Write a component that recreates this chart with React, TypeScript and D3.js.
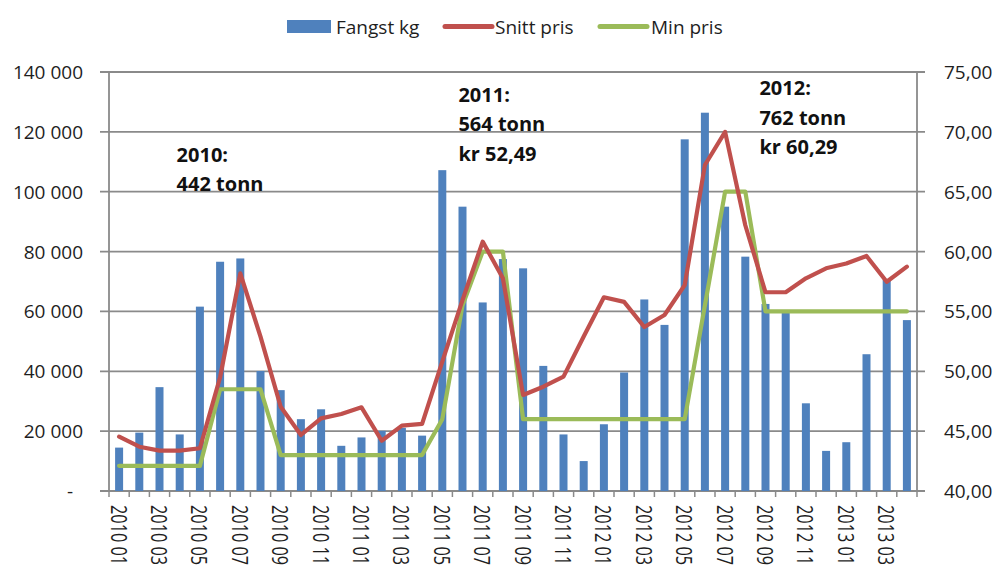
import React from 'react';
import * as d3 from 'd3';

const months = [
  '2010 01', '2010 02', '2010 03', '2010 04', '2010 05', '2010 06', '2010 07', '2010 08', '2010 09', '2010 10', '2010 11', '2010 12',
  '2011 01', '2011 02', '2011 03', '2011 04', '2011 05', '2011 06', '2011 07', '2011 08', '2011 09', '2011 10', '2011 11', '2011 12',
  '2012 01', '2012 02', '2012 03', '2012 04', '2012 05', '2012 06', '2012 07', '2012 08', '2012 09', '2012 10', '2012 11', '2012 12',
  '2013 01', '2013 02', '2013 03', '2013 04',
];

const catchKg = [
  14500, 19500, 34700, 18900, 61600, 76600, 77700, 40100, 33700, 24000, 27300, 15100,
  17900, 20100, 21100, 18500, 107200, 95000, 63000, 77500, 74400, 41800, 18900, 10000,
  22300, 39600, 64000, 55500, 117500, 126400, 95000, 78300, 62500, 59900, 29300, 13400,
  16300, 45700, 70500, 57100,
];

const avgPrice = [
  44.54, 43.7, 43.37, 43.37, 43.57, 49.5, 58.18, 52.9, 47.04, 44.68, 46.07, 46.43,
  46.99, 44.2, 45.46, 45.6, 50.8, 55.95, 60.83, 57.77, 48.02, 48.71, 49.55, 52.9,
  56.18, 55.8, 53.7, 54.7, 57.2, 67.23, 70.0, 62.2, 56.6, 56.6, 57.77, 58.6,
  59.0, 59.63, 57.48, 58.74,
];

const minPrice = [
  42.1, 42.1, 42.1, 42.1, 42.1, 48.5, 48.5, 48.5, 43, 43, 43, 43,
  43, 43, 43, 43, 46, 55.5, 60, 60, 46, 46, 46, 46,
  46, 46, 46, 46, 46, 55.5, 65, 65, 55, 55, 55, 55,
  55, 55, 55, 55,
];

const leftTicks = [0, 20000, 40000, 60000, 80000, 100000, 120000, 140000];
const rightTicks = [40, 45, 50, 55, 60, 65, 70, 75];

const annotations = [
  { month: '2010 04', lines: ['2010:', '442 tonn'], top: 161.5, dx: 7 },
  { month: '2011 06', lines: ['2011:', '564 tonn', 'kr 52,49'], top: 101.5, dx: 6 },
  { month: '2012 09', lines: ['2012:', '762 tonn', 'kr 60,29'], top: 95, dx: 4 },
];

const legendItems = [
  { label: 'Fangst kg', type: 'bar', color: '#4F81BD' },
  { label: 'Snitt pris', type: 'line', color: '#C0504D' },
  { label: 'Min pris', type: 'line', color: '#9BBB59' },
];

const W = 995;
const H = 578;
const L = 109;
const R = 917;
const T = 72;
const B = 491;
const FONT = '"Open Sans", "Liberation Sans", sans-serif';
const GRID = '#8a8a8a';
const TXT = '#1e1e1e';

export default function App() {
  const x = d3.scaleBand<string>().domain(months).range([L, R]).paddingInner(0).paddingOuter(0);
  const yL = d3.scaleLinear().domain([0, 140000]).range([B, T]);
  const yR = d3.scaleLinear().domain([40, 75]).range([B, T]);
  const cx = (m: string) => (x(m) as number) + x.bandwidth() / 2;
  const barW = 8;

  const fmtL = (v: number) => (v === 0 ? '-' : d3.format(',')(v).replace(/,/g, ' '));
  const fmtR = (v: number) => d3.format('.2f')(v).replace('.', ',');

  const lineGen = d3
    .line<number>()
    .x((_, i) => cx(months[i]))
    .y((d) => yR(d));

  const boundaries = months.map((m) => x(m) as number).concat([R]);
  const legendX = [287, 445, 600];
  const legendTextX = [336, 495, 651];

  return (
    <svg
      width={W}
      height={H}
      viewBox={`0 0 ${W} ${H}`}
      style={{ position: 'absolute', left: 0, top: 0, background: '#fff' }}
      fontFamily={FONT}
    >
      <rect x={0} y={0} width={W} height={H} fill="#fff" />

      {leftTicks.map((t) => (
        <line key={'g' + t} x1={100} x2={925} y1={yL(t)} y2={yL(t)} stroke={GRID} strokeWidth={1.8} />
      ))}
      <line x1={L} x2={L} y1={T} y2={B} stroke={GRID} strokeWidth={1.8} />
      <line x1={R} x2={R} y1={T} y2={B} stroke={GRID} strokeWidth={1.8} />
      {boundaries.map((b, i) => (
        <line key={'xt' + i} x1={b} x2={b} y1={B} y2={B + 6} stroke={GRID} strokeWidth={1.5} />
      ))}

      {leftTicks.map((t) => (
        <text
          key={'lt' + t}
          x={t === 0 ? 73 : 83}
          y={yL(t)}
          textAnchor="end"
          dominantBaseline="central"
          fontSize={19}
          fill={TXT}
        >
          {fmtL(t)}
        </text>
      ))}
      {rightTicks.map((t) => (
        <text key={'rt' + t} x={944} y={yR(t)} textAnchor="start" dominantBaseline="central" fontSize={19} fill={TXT}>
          {fmtR(t)}
        </text>
      ))}

      {months.map((m, i) =>
        i % 2 === 0 ? (
          <text
            key={'xl' + m}
            transform={`translate(${cx(m)},505) rotate(90) scale(1,1.35)`}
            textAnchor="start"
            dominantBaseline="central"
            fontSize={16.3}
            fill={TXT}
          >
            {m}
          </text>
        ) : null
      )}

      {months.map((m, i) => (
        <rect
          key={'b' + m}
          x={cx(m) - barW / 2}
          y={yL(catchKg[i])}
          width={barW}
          height={B - yL(catchKg[i])}
          fill="#4F81BD"
        />
      ))}

      <path d={lineGen(minPrice) || ''} fill="none" stroke="#9BBB59" strokeWidth={4.2} strokeLinejoin="round" strokeLinecap="round" />
      <path d={lineGen(avgPrice) || ''} fill="none" stroke="#C0504D" strokeWidth={4.2} strokeLinejoin="round" strokeLinecap="round" />

      {annotations.map((a) => (
        <text key={a.lines[0]} x={(x(a.month) as number) + a.dx} y={a.top} fontSize={20} fontWeight="bold" fill="#111">
          {a.lines.map((ln, j) => (
            <tspan key={j} x={(x(a.month) as number) + a.dx} y={a.top + j * 29.5}>
              {ln}
            </tspan>
          ))}
        </text>
      ))}

      {legendItems.map((it, i) => (
        <g key={it.label}>
          {it.type === 'bar' ? (
            <rect x={legendX[i]} y={20} width={44} height={13} fill={it.color} />
          ) : (
            <line x1={legendX[i]} x2={legendX[i] + 47} y1={26.5} y2={26.5} stroke={it.color} strokeWidth={5} strokeLinecap="round" />
          )}
          <text x={legendTextX[i]} y={26.5} dominantBaseline="central" fontSize={19} fill={TXT}>
            {it.label}
          </text>
        </g>
      ))}
    </svg>
  );
}
